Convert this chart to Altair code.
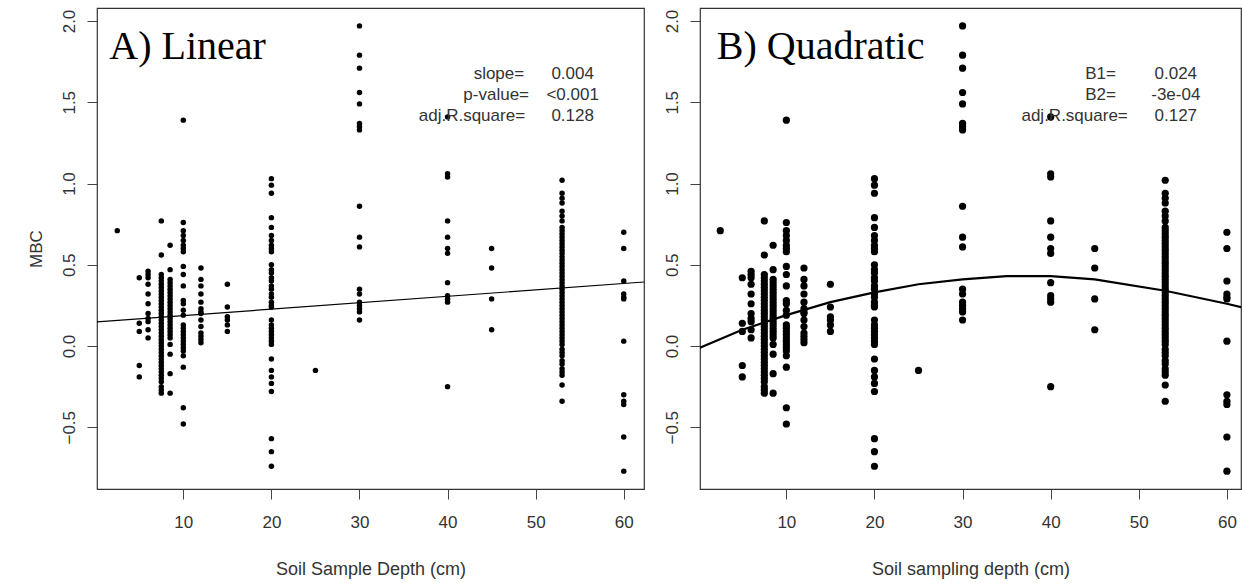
import altair as alt
import pandas as pd

# ---- data: MBC values per sampling depth ----
depth_values = {
    2.5: [0.71],
    5: [0.42, 0.14, 0.09, -0.12, -0.19],
    6: [0.46, 0.44, 0.42, 0.38, 0.32, 0.26, 0.20, 0.17, 0.15, 0.10, 0.05],
    7.5: [0.77, 0.56, 0.44, 0.42, 0.40, 0.38, 0.36, 0.34, 0.32, 0.30, 0.28, 0.26,
          0.24, 0.22, 0.20, 0.18, 0.16, 0.14, 0.12, 0.10, 0.08, 0.06, 0.04, 0.02,
          0.00, -0.02, -0.04, -0.06, -0.08, -0.10, -0.12, -0.14, -0.16, -0.18,
          -0.20, -0.22, -0.25, -0.27, -0.29],
    8.5: [0.62, 0.47, 0.41, 0.39, 0.37, 0.35, 0.33, 0.31, 0.29, 0.27, 0.25, 0.23,
          0.21, 0.19, 0.17, 0.15, 0.13, 0.11, 0.09, 0.07, 0.05, 0.01, -0.05,
          -0.17, -0.29],
    10: [1.39, 0.76, 0.71, 0.68, 0.65, 0.62, 0.60, 0.58, 0.49, 0.44, 0.37, 0.28,
         0.26, 0.22, 0.19, 0.13, 0.11, 0.09, 0.07, 0.05, 0.03, 0.01, -0.01, -0.03,
         -0.06, -0.13, -0.38, -0.48],
    12: [0.48, 0.41, 0.37, 0.32, 0.27, 0.23, 0.21, 0.20, 0.16, 0.12, 0.08, 0.06,
         0.04, 0.02],
    15: [0.38, 0.24, 0.18, 0.16, 0.13, 0.09],
    20: [1.03, 0.99, 0.94, 0.79, 0.73, 0.68, 0.65, 0.62, 0.60, 0.58, 0.50, 0.47,
         0.45, 0.42, 0.40, 0.37, 0.35, 0.32, 0.30, 0.27, 0.25, 0.24, 0.16, 0.13,
         0.11, 0.09, 0.07, 0.05, 0.03, 0.01, -0.08, -0.15, -0.19, -0.23, -0.28,
         -0.57, -0.65, -0.74],
    25: [-0.15],
    30: [1.97, 1.79, 1.71, 1.56, 1.49, 1.37, 1.35, 1.33, 0.86, 0.67, 0.61, 0.35,
         0.32, 0.27, 0.25, 0.23, 0.21, 0.16],
    40: [1.41, 1.06, 1.04, 0.77, 0.67, 0.60, 0.57, 0.39, 0.31, 0.29, 0.27, -0.25],
    45: [0.60, 0.48, 0.29, 0.10],
    53: [1.02, 0.94, 0.91, 0.88, 0.83, 0.80, 0.77, 0.73, 0.71, 0.69, 0.67, 0.65,
         0.63, 0.61, 0.59, 0.57, 0.55, 0.53, 0.51, 0.49, 0.47, 0.45, 0.43, 0.41,
         0.39, 0.37, 0.35, 0.33, 0.31, 0.29, 0.27, 0.25, 0.23, 0.21, 0.19, 0.17,
         0.15, 0.13, 0.11, 0.09, 0.07, 0.05, 0.03, 0.01, -0.02, -0.04, -0.06,
         -0.09, -0.11, -0.14, -0.16, -0.18, -0.24, -0.34],
    60: [0.70, 0.60, 0.40, 0.32, 0.30, 0.29, 0.03, -0.30, -0.34, -0.36, -0.56, -0.77],
}

# fitted lines
lin_x = [0.2, 62.3]
lin_y = [0.148, 0.394]
quad_x = [0.2, 5, 10, 15, 20, 25, 30, 35, 40, 45, 53, 60, 62.3]
quad_y = [-0.01, 0.10, 0.19, 0.27, 0.33, 0.38, 0.41, 0.43, 0.43, 0.41, 0.34, 0.26, 0.23]

left_stat_labels = ["slope=", "p-value=", "adj.R.square="]
left_stat_values = ["0.004", "<0.001", "0.128"]
left_label_x = [48.7, 49.25, 48.8]
right_stat_labels = ["B1=", "B2=", "adj.R.square="]
right_stat_values = ["0.024", "-3e-04", "0.127"]
right_label_x = [47.4, 47.4, 48.75]
stat_row_y = [1.642, 1.513, 1.384]
value_x = 54.2

x_ticks = [10, 20, 30, 40, 50, 60]
y_ticks = [-0.5, 0.0, 0.5, 1.0, 1.5, 2.0]

rows = []
for d, vals in depth_values.items():
    for v in vals:
        rows.append({"depth": d, "mbc": v})
pts = pd.DataFrame(rows)

lin_df = pd.DataFrame({"x": lin_x, "y": lin_y})
quad_df = pd.DataFrame({"x": quad_x, "y": quad_y})

FONT = "Liberation Sans"
TXT = "#333333"

def panel(xtitle, show_ytitle, x_max, width, dot_size, line_df, line_w,
          panel_title, title_x, stat_labels, stat_vals, label_x):
    xs = alt.Scale(domain=[0.2, x_max], nice=False, zero=False)
    ys = alt.Scale(domain=[-0.88, 2.08], nice=False, zero=False)
    xaxis = alt.Axis(values=x_ticks, grid=False, domain=False, tickSize=10,
                     tickColor="#444444", labelPadding=15, labelFontSize=17,
                     labelFont=FONT, labelColor=TXT, title=xtitle, titleFont=FONT,
                     titleFontSize=18, titleFontWeight="normal", titleColor=TXT,
                     titlePadding=30)
    yargs = dict(values=y_ticks, format=".1f", grid=False, domain=False,
                 tickSize=10, tickColor="#444444", labelPadding=9,
                 labelFontSize=17, labelFont=FONT, labelColor=TXT, labelAngle=270,
                 labelAlign="center", labelBaseline="bottom")
    if show_ytitle:
        yaxis = alt.Axis(title="MBC", titleFont=FONT, titleFontSize=17,
                         titleFontWeight="normal", titleColor=TXT,
                         titlePadding=15, **yargs)
    else:
        yaxis = alt.Axis(title=None, **yargs)

    base_pts = alt.Chart(pts).mark_circle(size=dot_size, color="black",
                                          opacity=1).encode(
        x=alt.X("depth:Q", scale=xs, axis=xaxis),
        y=alt.Y("mbc:Q", scale=ys, axis=yaxis),
    )
    line = alt.Chart(line_df).mark_line(color="black", strokeWidth=line_w,
                                        clip=True).encode(
        x=alt.X("x:Q", scale=xs), y=alt.Y("y:Q", scale=ys))
    tdf = pd.DataFrame({"t": [panel_title], "x": [title_x], "y": [1.765]})
    title = alt.Chart(tdf).mark_text(font="Liberation Serif", fontSize=40,
                                     align="left", baseline="alphabetic",
                                     color="black").encode(
        x=alt.X("x:Q", scale=xs), y=alt.Y("y:Q", scale=ys), text="t:N")
    sdf = pd.DataFrame({"lab": stat_labels, "val": stat_vals,
                        "lx": label_x, "vx": [value_x] * 3, "y": stat_row_y})
    slab = alt.Chart(sdf).mark_text(font=FONT, fontSize=17, align="right",
                                    baseline="alphabetic", color=TXT).encode(
        x=alt.X("lx:Q", scale=xs), y=alt.Y("y:Q", scale=ys), text="lab:N")
    sval = alt.Chart(sdf).mark_text(font=FONT, fontSize=17, align="center",
                                    baseline="alphabetic", color=TXT).encode(
        x=alt.X("vx:Q", scale=xs), y=alt.Y("y:Q", scale=ys), text="val:N")
    return alt.layer(base_pts, line, title, slab, sval).properties(
        width=width, height=481)

left = panel("Soil Sample Depth (cm)", True, 62.3, 547, 30, lin_df, 1.2,
             "A) Linear", 1.6, left_stat_labels, left_stat_values, left_label_x)
right = panel("Soil sampling depth (cm)", False, 61.6, 541, 52, quad_df, 2.2,
              "B) Quadratic", 2.1, right_stat_labels, right_stat_values,
              right_label_x)

chart = alt.hconcat(left, right, spacing=17).properties(
    padding={"left": 26, "top": 7, "right": 0, "bottom": 0},
    background="white",
).configure_view(stroke="#333333", strokeWidth=1.2)

chart.save("out.html", embed_options={"renderer": "svg", "actions": False})
